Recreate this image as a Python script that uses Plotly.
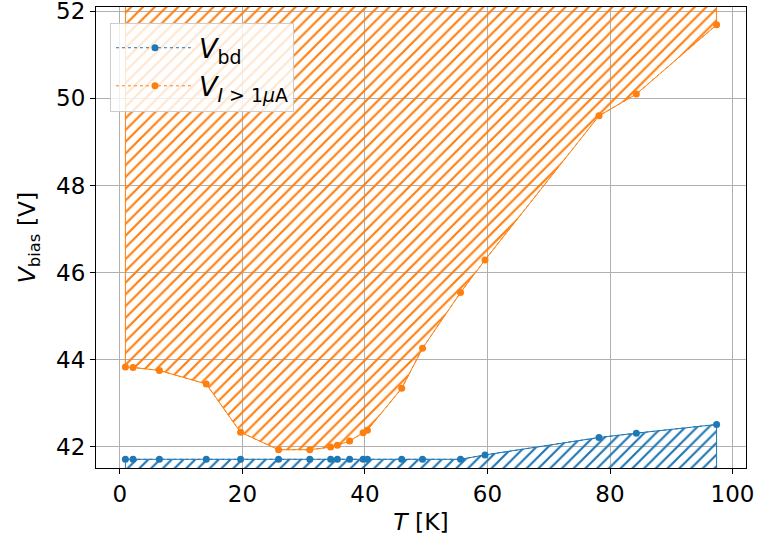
import plotly.graph_objects as go

# Data
T = [0.9, 2.15, 6.45, 14.1, 19.7, 25.9, 31.0, 34.4, 35.5, 37.5, 39.7, 40.4,
     46.0, 49.4, 55.6, 59.6, 78.2, 84.3, 97.4]
V_I = [43.83, 43.82, 43.75, 43.44, 42.33, 41.93, 41.93, 41.99, 42.03, 42.13,
       42.32, 42.38, 43.34, 44.26, 45.54, 46.29, 49.60, 50.10, 51.69]
V_bd = [41.71, 41.71, 41.71, 41.71, 41.71, 41.71, 41.71, 41.71, 41.71, 41.71,
        41.71, 41.71, 41.71, 41.71, 41.71, 41.81, 42.21, 42.31, 42.51]

x_ticks = [0, 20, 40, 60, 80, 100]
y_ticks = [42, 44, 46, 48, 50, 52]
x_range = [-3.9, 102.2]
y_range = [41.51, 52.10]

BLUE = "#1f77b4"
ORANGE = "#ff7f0e"
FONT = "DejaVu Sans"

fill_top = 53.0
fill_bottom = 41.0

fig = go.Figure()

# Hatched region above V_I>1uA
fig.add_trace(go.Scatter(
    x=T + [T[-1], T[0], T[0]],
    y=V_I + [fill_top, fill_top, V_I[0]],
    mode="lines", fill="toself",
    line=dict(color=ORANGE, width=1),
    fillcolor="rgba(0,0,0,0)",
    fillpattern=dict(shape="/", fgcolor=ORANGE, bgcolor="rgba(0,0,0,0)",
                     size=8.3, solidity=0.26, fillmode="replace"),
    showlegend=False, hoverinfo="skip"))

# Hatched region below V_bd
fig.add_trace(go.Scatter(
    x=T + [T[-1], T[0], T[0]],
    y=V_bd + [fill_bottom, fill_bottom, V_bd[0]],
    mode="lines", fill="toself",
    line=dict(color=BLUE, width=1),
    fillcolor="rgba(0,0,0,0)",
    fillpattern=dict(shape="/", fgcolor=BLUE, bgcolor="rgba(0,0,0,0)",
                     size=8.3, solidity=0.26, fillmode="replace"),
    showlegend=False, hoverinfo="skip"))

fig.add_trace(go.Scatter(
    x=T, y=V_bd, mode="lines+markers",
    name="<i>V</i><sub>bd</sub>",
    line=dict(color=BLUE, width=1, dash="dot"),
    marker=dict(color=BLUE, size=7)))

fig.add_trace(go.Scatter(
    x=T, y=V_I, mode="lines+markers",
    name="<i>V</i><sub><i>I</i> > 1<i>μ</i>A</sub>",
    line=dict(color=ORANGE, width=1, dash="dot"),
    marker=dict(color=ORANGE, size=7)))

axis_common = dict(
    showline=True, linecolor="black", linewidth=1.1, mirror=True,
    showgrid=True, gridcolor="#b0b0b0", gridwidth=1.1,
    ticks="outside", ticklen=5, tickwidth=1.1, tickcolor="black",
    zeroline=False, ticklabeloverflow="allow", automargin=False,
    tickfont=dict(family=FONT, size=23, color="black"),
)

fig.update_xaxes(
    range=x_range, tickvals=x_ticks, ticktext=[str(v) for v in x_ticks],
    title=dict(text="<i>T</i> [K]", font=dict(family=FONT, size=23.5, color="black"),
               standoff=7),
    **axis_common)
fig.update_yaxes(
    range=y_range, tickvals=y_ticks, ticktext=[str(v) for v in y_ticks],
    title=dict(text="<i>V</i><sub>bias</sub> [V]",
               font=dict(family=FONT, size=23.5, color="black"), standoff=13),
    **axis_common)

fig.update_layout(
    width=759, height=545,
    margin=dict(l=96, r=13, t=7, b=77, autoexpand=False),
    paper_bgcolor="white", plot_bgcolor="white",
    font=dict(family=FONT, color="black"),
    showlegend=True,
    legend=dict(
        x=0.0215, y=0.966, xanchor="left", yanchor="top",
        bgcolor="rgba(255,255,255,0.8)", bordercolor="#cccccc", borderwidth=1,
        font=dict(family=FONT, size=27, color="black"),
        itemwidth=78, tracegroupgap=8,
    ),
)

fig.write_html("out.html")
